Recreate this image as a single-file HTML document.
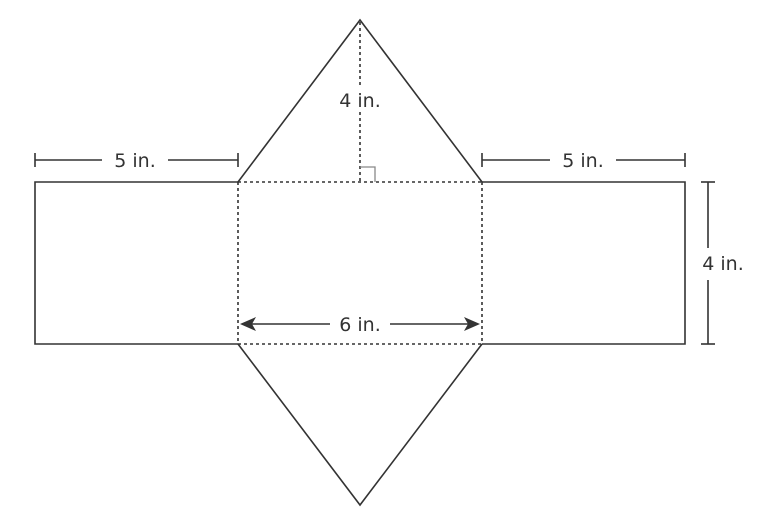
<!DOCTYPE html>
<html><head><meta charset="utf-8"><style>
html,body{margin:0;padding:0;background:#fff;}
svg{display:block;}
text{font-family:"DejaVu Sans","Liberation Sans",sans-serif;font-size:19px;fill:#333;}
</style></head><body>
<svg width="760" height="518" viewBox="0 0 760 518" xmlns="http://www.w3.org/2000/svg">
<g stroke="#333" stroke-width="1.6" fill="none">
<polyline points="238,182 35,182 35,344 238,344"/>
<polyline points="482,182 685,182 685,344 482,344"/>
<polyline points="238,182 360,20 482,182"/>
<polyline points="238,344 360,505 482,344"/>
</g>
<g stroke="#333" stroke-width="1.6" stroke-dasharray="3,3" fill="none">
<line x1="238" y1="182" x2="482" y2="182"/>
<line x1="238" y1="344" x2="482" y2="344"/>
<line x1="238" y1="182" x2="238" y2="344"/>
<line x1="482" y1="182" x2="482" y2="344"/>
<line x1="360" y1="22" x2="360" y2="182"/>
</g>
<polyline points="360,167 375,167 375,182" stroke="#888" stroke-width="1.3" fill="none"/>
<g stroke="#333" stroke-width="1.6">
<line x1="35" y1="160" x2="102" y2="160"/><line x1="168" y1="160" x2="238" y2="160"/>
<line x1="35" y1="153" x2="35" y2="167"/><line x1="238" y1="153" x2="238" y2="167"/>
<line x1="482" y1="160" x2="550" y2="160"/><line x1="616" y1="160" x2="685" y2="160"/>
<line x1="482" y1="153" x2="482" y2="167"/><line x1="685" y1="153" x2="685" y2="167"/>
<line x1="708" y1="182" x2="708" y2="248"/><line x1="708" y1="280" x2="708" y2="344"/>
<line x1="701" y1="182" x2="715" y2="182"/><line x1="701" y1="344" x2="715" y2="344"/>
<line x1="250" y1="324" x2="330" y2="324"/><line x1="390" y1="324" x2="470" y2="324"/>
</g>
<polygon points="240,324 256,317 252,324 256,331" fill="#333"/>
<polygon points="480,324 464,317 468,324 464,331" fill="#333"/>
<rect x="333" y="86" width="54" height="24" fill="#fff"/>
<text x="360" y="107" text-anchor="middle">4 in.</text>
<text x="135" y="167" text-anchor="middle">5 in.</text>
<text x="583" y="167" text-anchor="middle">5 in.</text>
<text x="723" y="270" text-anchor="middle">4 in.</text>
<text x="360" y="331" text-anchor="middle">6 in.</text>
</svg>
</body></html>
